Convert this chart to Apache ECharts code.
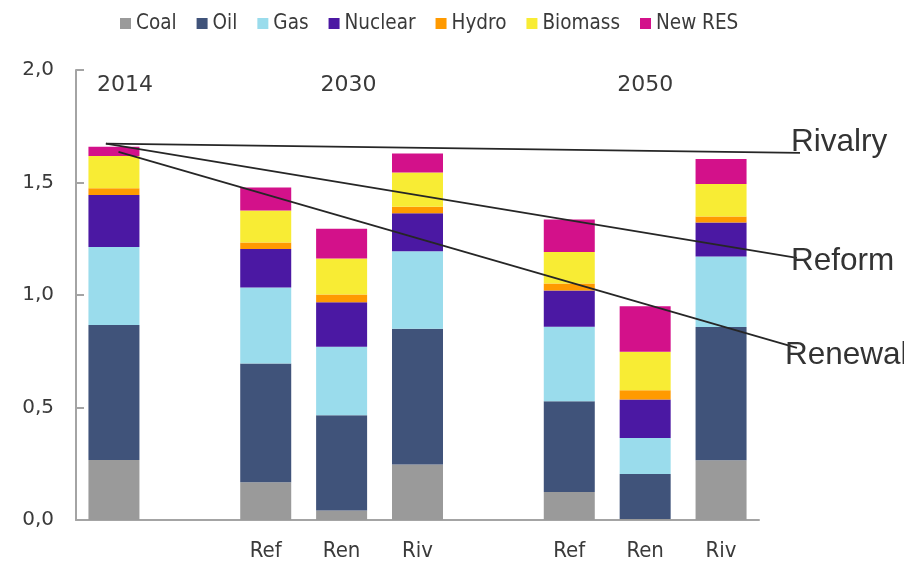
<!DOCTYPE html>
<html>
<head>
<meta charset="utf-8">
<script src="https://cdn.jsdelivr.net/npm/echarts@6/dist/echarts.min.js"></script>
<style>html,body{margin:0;padding:0;background:#fff;}#c{width:904px;height:563px;}</style>
</head>
<body>
<div id="c"></div>
<script>
const categories = ['', '', 'Ref', 'Ren', 'Riv', '', 'Ref', 'Ren', 'Riv'];
const periodLabels = ['2014', '', '', '2030', '', '', '', '2050', ''];
const seriesNames = ['Coal', 'Oil', 'Gas', 'Nuclear', 'Hydro', 'Biomass', 'New RES'];
const coal    = [0.267, '-', 0.168, 0.042, 0.247, '-', 0.125, 0.005, 0.266];
const oil     = [0.600, '-', 0.528, 0.424, 0.603, '-', 0.403, 0.200, 0.592];
const gas     = [0.346, '-', 0.337, 0.304, 0.345, '-', 0.331, 0.160, 0.313];
const nuclear = [0.231, '-', 0.172, 0.198, 0.168, '-', 0.161, 0.171, 0.151];
const hydro   = [0.030, '-', 0.028, 0.034, 0.029, '-', 0.031, 0.041, 0.027];
const biomass = [0.144, '-', 0.143, 0.160, 0.152, '-', 0.140, 0.171, 0.144];
const newRes  = [0.041, '-', 0.102, 0.132, 0.085, '-', 0.145, 0.202, 0.111];
const yTicks = [0, 0.5, 1.0, 1.5, 2.0];
// scenario trend lines: [x position in category units (0 = 2014 bar), value]
const rivalryLine = [[-0.106, 1.673], [9.04, 1.632]];
const reformLine  = [[-0.106, 1.673], [9.0, 1.165]];
const renewalLine = [[0.06, 1.636], [9.0, 0.765]];

const colors = ['#9a9a9a', '#40537a', '#9adcec', '#4b18a3', '#ff9a00', '#f8ec34', '#d3118a'];
const values = [coal, oil, gas, nuclear, hydro, biomass, newRes];
const txt = '#3a3a3a';
const axisGray = '#a4a4a4';

// main plot: left 76, width 683 for 9 slots
const gridLeft = 76, gridRight = 145, slot = 683 / 9;
const overlayMax = -0.5 + (904 - gridLeft) / slot;

const chart = echarts.init(document.getElementById('c'));
const barSeries = seriesNames.map((n, i) => ({
  name: n, type: 'bar', stack: 'total', data: values[i], barWidth: 51,
  xAxisIndex: 0, yAxisIndex: 0,
  itemStyle: { color: colors[i] }
}));
function trend(name, pts, off) {
  return {
    name: name, type: 'line', xAxisIndex: 2, yAxisIndex: 1, data: pts,
    symbol: 'none', silent: true, z: 5,
    lineStyle: { color: '#262626', width: 1.7 },
    endLabel: { show: true, formatter: '{a}', color: '#333', fontFamily: 'Liberation Sans, Arial', fontSize: 31.5, offset: off, distance: 5 }
  };
}
chart.setOption({
  animation: false,
  color: colors,
  legend: {
    data: seriesNames, top: 8, left: 115, icon: 'rect', itemWidth: 11, itemHeight: 11, itemGap: 20,
    textStyle: { fontFamily: 'DejaVu Sans Condensed, DejaVu Sans', fontSize: 20.5, color: txt }
  },
  grid: [
    { left: gridLeft, right: gridRight, top: 70, bottom: 43, containLabel: false },
    { left: gridLeft, right: 0, top: 70, bottom: 43, containLabel: false }
  ],
  xAxis: [
    { type: 'category', data: categories, position: 'bottom', gridIndex: 0,
      axisLine: { show: true, lineStyle: { color: axisGray, width: 2 } },
      axisTick: { show: false },
      axisLabel: { interval: 0, margin: 20, fontFamily: 'DejaVu Sans Condensed, DejaVu Sans', fontSize: 22, color: txt } },
    { type: 'category', data: periodLabels, position: 'top', gridIndex: 0,
      axisLine: { show: false }, axisTick: { show: false },
      axisLabel: { inside: true, interval: 0, margin: 4, fontFamily: 'DejaVu Sans', fontSize: 22, color: txt,
        formatter: (v, i) => i === 0 ? '{a|' + v + '}' : (i === 3 ? '{b|' + v + '}' : v),
        rich: { a: { padding: [0, 0, 0, 22], fontFamily: 'DejaVu Sans', fontSize: 22, color: txt },
                b: { padding: [0, 0, 0, 14], fontFamily: 'DejaVu Sans', fontSize: 22, color: txt } } } },
    { type: 'value', gridIndex: 1, min: -0.5, max: overlayMax, show: false }
  ],
  yAxis: [
    { type: 'value', gridIndex: 0, min: yTicks[0], max: yTicks[yTicks.length - 1], interval: 0.5,
      axisLine: { show: true, onZero: false, lineStyle: { color: axisGray, width: 2 } },
      axisTick: { show: true, inside: true, length: 8, lineStyle: { color: axisGray, width: 2 } },
      splitLine: { show: false },
      axisLabel: { margin: 22, fontFamily: 'DejaVu Sans', fontSize: 20, color: txt,
        formatter: v => v.toFixed(1).replace('.', ',') } },
    { type: 'value', gridIndex: 1, min: yTicks[0], max: yTicks[yTicks.length - 1], show: false }
  ],
  series: barSeries.concat([
    trend('Rivalry', rivalryLine, [-14, -10]),
    trend('Reform', reformLine, [-11, 3]),
    trend('Renewal', renewalLine, [-17, 7])
  ])
});
</script>
</body>
</html>
